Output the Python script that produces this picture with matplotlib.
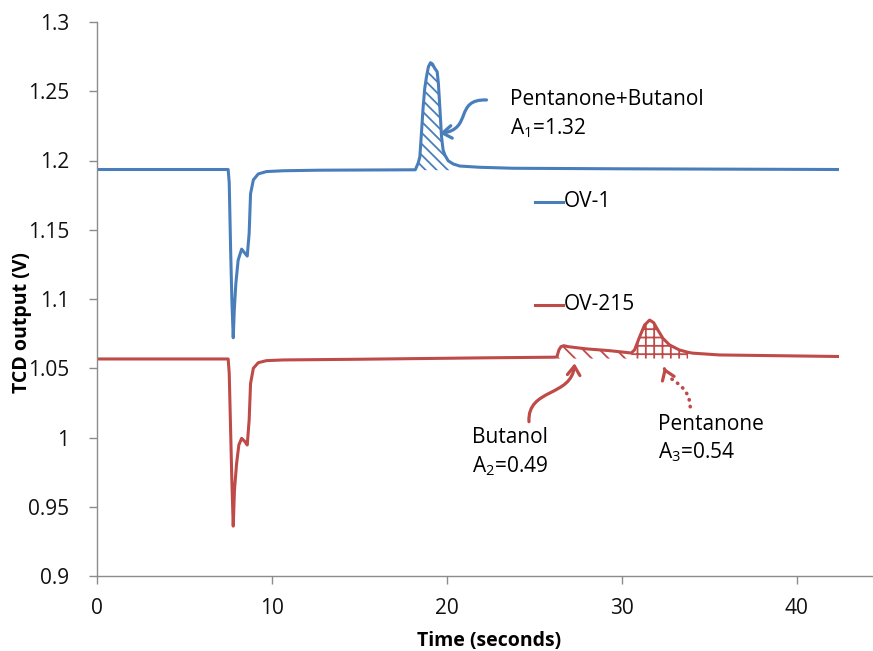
import matplotlib
matplotlib.use("Agg")
import matplotlib.pyplot as plt
from matplotlib.patches import FancyArrowPatch
from matplotlib.path import Path
import numpy as np

# ---- data -------------------------------------------------------------
time_ov1 = [0, 7.5, 7.56, 7.64, 7.71, 7.79, 7.85, 7.94, 8.07, 8.27, 8.46, 8.59,
            8.7, 8.78, 8.94, 9.22, 9.69, 10.65, 12.7, 18.2, 18.36, 18.46, 18.55,
            18.65, 18.74, 18.84, 18.95, 19.07, 19.18, 19.31, 19.45, 19.52, 19.6,
            19.7, 19.79, 19.89, 20.08, 20.37, 20.74, 21.89, 23.79, 30.0, 42.34]
tcd_ov1 = [1.1935, 1.1935, 1.184, 1.136, 1.1, 1.072, 1.092, 1.1113, 1.128, 1.136,
           1.133, 1.131, 1.1474, 1.176, 1.186, 1.1903, 1.192, 1.1926, 1.193,
           1.1933, 1.198, 1.2027, 1.2196, 1.2388, 1.2521, 1.2605, 1.2677, 1.2706,
           1.2697, 1.2666, 1.2641, 1.2557, 1.239, 1.2172, 1.2076, 1.204, 1.1998,
           1.1975, 1.196, 1.1951, 1.1944, 1.194, 1.1935]

time_ov215 = [0, 7.5, 7.56, 7.64, 7.71, 7.79, 7.86, 7.98, 8.11, 8.27, 8.46, 8.59,
              8.7, 8.78, 8.94, 9.22, 9.69, 10.65, 15.0, 22.0, 26.2, 26.3, 26.41,
              26.53, 26.69, 26.93, 27.97, 29.31, 30.55, 30.74, 31.03, 31.31, 31.6,
              31.83, 32.07, 32.36, 32.74, 33.3, 33.8, 34.06, 35.6, 42.34]
tcd_ov215 = [1.0567, 1.0567, 1.0464, 1.0054, 0.969, 0.936, 0.962, 0.981, 0.9946,
             0.9994, 0.997, 0.9946, 1.0126, 1.039, 1.05, 1.054, 1.0555, 1.056,
             1.0565, 1.0575, 1.058, 1.0583, 1.0632, 1.0656, 1.0663, 1.0656, 1.064,
             1.0627, 1.0610, 1.0633, 1.0728, 1.0812, 1.0848, 1.0829, 1.0776,
             1.0716, 1.0668, 1.0632, 1.0615, 1.0609, 1.0596, 1.0585]

series_names = ["OV-1", "OV-215"]
x_ticks = [0, 10, 20, 30, 40]
y_ticks = [0.9, 0.95, 1.0, 1.05, 1.1, 1.15, 1.2, 1.25, 1.3]
y_tick_labels = ["0.9", "0.95", "1", "1.05", "1.1", "1.15", "1.2", "1.25", "1.3"]

peak_labels = ["Pentanone+Butanol", "Butanol", "Pentanone"]
peak_areas = ["A$_1$=1.32", "A$_2$=0.49", "A$_3$=0.54"]

# ---- style ------------------------------------------------------------
BLUE = "#4A7EBB"
RED = "#BE4B48"
AXIS_GREY = "#8C8C8C"
TXT = 15
plt.rcParams["font.family"] = ["Open Sans", "DejaVu Sans"]
plt.rcParams["mathtext.fontset"] = "custom"
plt.rcParams["mathtext.rm"] = "Open Sans"
plt.rcParams["hatch.linewidth"] = 1.3

fig = plt.figure(figsize=(8.73, 6.51), dpi=100)
ax = fig.add_axes([97 / 873, 1 - 576 / 651, (884 - 97) / 873, (576 - 22) / 651])

t1 = np.array(time_ov1)
v1 = np.array(tcd_ov1)
t2 = np.array(time_ov215)
v2 = np.array(tcd_ov215)

# hatched peak areas
ax.fill_between(t1, 1.193, v1, where=(t1 >= 18.2) & (t1 <= 20.37),
                facecolor="none", edgecolor=BLUE, linewidth=0, hatch="\\\\\\")
ax.fill_between(t2, 1.057, v2, where=(t2 >= 26.2) & (t2 <= 30.55),
                facecolor="none", edgecolor=RED, linewidth=0, hatch="\\\\")
ax.fill_between(t2, 1.057, v2, where=(t2 >= 30.55) & (t2 <= 33.8),
                facecolor="none", edgecolor=RED, linewidth=0, hatch="++")

ax.plot(t1, v1, color=BLUE, lw=2.2, solid_joinstyle="round")
ax.plot(t2, v2, color=RED, lw=2.2, solid_joinstyle="round")

# inline legend
ax.plot([25.03, 26.63], [1.1703, 1.1703], color=BLUE, lw=2.2)
ax.text(26.7, 1.1703, series_names[0], fontsize=TXT, va="center", ha="left")
ax.plot([25.03, 26.63], [1.0957, 1.0957], color=RED, lw=2.2)
ax.text(26.7, 1.0957, series_names[1], fontsize=TXT, va="center", ha="left")

# annotations
ax.text(23.6, 1.2437, peak_labels[0], fontsize=TXT, va="center", ha="left")
ax.text(23.6, 1.2232, peak_areas[0], fontsize=TXT, va="center", ha="left")
ax.text(21.45, 0.9998, peak_labels[1], fontsize=TXT, va="center", ha="left")
ax.text(21.45, 0.9793, peak_areas[1], fontsize=TXT, va="center", ha="left")
ax.text(32.05, 1.0097, peak_labels[2], fontsize=TXT, va="center", ha="left")
ax.text(32.05, 0.9892, peak_areas[2], fontsize=TXT, va="center", ha="left")

C4 = [Path.MOVETO, Path.CURVE4, Path.CURVE4, Path.CURVE4]
head = "->,head_length=0.65,head_width=0.45"

arr1 = FancyArrowPatch(path=Path([(22.27, 1.2437), (20.4, 1.2445), (21.5, 1.2225),
                                  (19.6, 1.2196)], C4),
                       arrowstyle=head, mutation_scale=10, color=BLUE, lw=2.3,
                       capstyle="round", joinstyle="round")
ax.add_patch(arr1)

arr2 = FancyArrowPatch(path=Path([(24.7, 1.0114), (24.6, 1.036), (27.15, 1.029),
                                  (27.31, 1.0536)], C4),
                       arrowstyle=head, mutation_scale=10, color=RED, lw=2.3,
                       capstyle="round", joinstyle="round")
ax.add_patch(arr2)

dotted = FancyArrowPatch(path=Path([(33.92, 1.0222), (33.9, 1.036), (33.0, 1.040),
                                    (32.6, 1.045)], C4),
                         arrowstyle="-", color=RED, lw=2.6,
                         linestyle=(0, (0.1, 1.8)), capstyle="round")
ax.add_patch(dotted)
ax.annotate("", xy=(32.36, 1.0523), xytext=(32.5, 1.0478),
            arrowprops=dict(arrowstyle=head, mutation_scale=10, color=RED, lw=2.3,
                            capstyle="round", joinstyle="round"))

# axes
ax.set_xlim(0, 45)
ax.set_ylim(0.9, 1.3)
ax.set_xticks(x_ticks)
ax.set_yticks(y_ticks)
ax.set_yticklabels(y_tick_labels)
for s in ("top", "right"):
    ax.spines[s].set_visible(False)
for s in ("left", "bottom"):
    ax.spines[s].set_color(AXIS_GREY)
    ax.spines[s].set_linewidth(1.0)
ax.tick_params(axis="both", direction="out", length=6, width=1.0, color=AXIS_GREY,
               labelsize=TXT, labelcolor="#111111")
ax.tick_params(axis="y", pad=14)
ax.tick_params(axis="x", pad=10)

ax.set_xlabel("Time (seconds)", fontsize=14, fontweight="bold")
ax.set_ylabel("TCD output (V)", fontsize=14, fontweight="bold")
ax.xaxis.set_label_coords((489 - 97) / (884 - 97), -(641 - 576) / 554)
ax.yaxis.set_label_coords(-(97 - 22) / (884 - 97), (576 - 323) / 554)
ax.xaxis.label.set_va("center")
ax.yaxis.label.set_va("center")

fig.savefig("out.png", dpi=100)
